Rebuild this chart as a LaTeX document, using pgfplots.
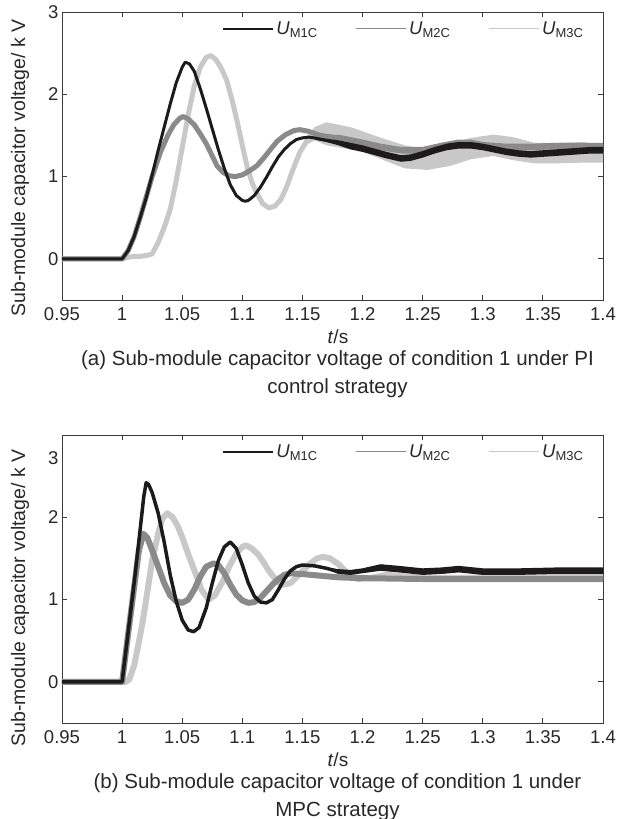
\documentclass[border=0pt]{standalone}
\usepackage{fontspec}
\setmainfont{Liberation Sans}
\usepackage{pgfplots}
\pgfplotsset{compat=1.18}
\definecolor{cA}{RGB}{28,26,27}
\definecolor{cB}{RGB}{138,138,138}
\definecolor{cC}{RGB}{200,200,200}
\definecolor{axc}{RGB}{60,60,60}
\definecolor{txc}{RGB}{40,40,40}
\newcommand{\fs}{\fontsize{18.5}{21}\selectfont}
\newcommand{\fl}{\fontsize{19.5}{23}\selectfont}
\newcommand{\fx}{\fontsize{19}{22}\selectfont}
\newcommand{\fc}{\fontsize{20.5}{28}\selectfont}
\pgfplotsset{
 mystyle/.style={
  scale only axis, width=541pt, height=288pt,
  xmin=0.95, xmax=1.4, ymin=-0.5, ymax=3,
  xtick={0.95,1.0,1.05,1.1,1.15,1.2,1.25,1.3,1.35,1.4},
  xticklabels={0.95,1,1.05,1.1,1.15,1.2,1.25,1.3,1.35,1.4},
  tick align=inside, xtick pos=both, ytick pos=both,
  major tick length=5pt,
  axis line style={axc, line width=0.8pt},
  every tick/.style={axc, line width=0.8pt},
  tick label style={font=\fs, text=txc},
  xticklabel style={yshift=-4pt},
  label style={text=txc},
  xlabel={\textit{t}/s},
  xlabel style={font=\fx, inner sep=0pt, at={(axis description cs:0.51,-0.127)}, anchor=center},
  ylabel={Sub-module capacitor voltage/ k V},
  legend columns=3,
  legend style={draw=none, fill=none, at={(axis description cs:0.296,0.975)}, anchor=north west, inner sep=0pt,
     font=\fs, text=txc, /tikz/every even column/.append style={column sep=36pt}, cells={anchor=west}},
  legend image code/.code={\draw[##1] (0pt,0pt) -- (50pt,0pt);},
 }
}
\begin{document}
\begin{tikzpicture}
\path[use as bounding box] (-62pt,-519pt) rectangle (559pt,300pt);
% ---------------- (a) PI ----------------
\begin{axis}[mystyle, at={(0pt,0pt)}, anchor=south west,
  ytick={0,1,2,3}, yticklabels={0,1,2,3},
  ylabel style={font=\fl, at={(axis description cs:-0.0776,0.458)}, anchor=center}]
\addlegendimage{cA, line width=2pt}\addlegendentry{\textit{U}\textsubscript{M1C}}
\addlegendimage{cB, line width=1.6pt}\addlegendentry{\textit{U}\textsubscript{M2C}}
\addlegendimage{cC, line width=1.6pt}\addlegendentry{\textit{U}\textsubscript{M3C}}
% U_M3C
\addplot[cC, line width=5pt, line join=round, forget plot] coordinates {
(0.95,0)(1.0,0)(1.005,0.02)(1.01,0.03)(1.015,0.03)(1.02,0.04)(1.025,0.06)(1.03,0.2)(1.035,0.38)(1.04,0.6)(1.045,0.95)(1.05,1.35)(1.055,1.75)(1.06,2.1)(1.065,2.33)(1.07,2.45)(1.074,2.47)(1.078,2.42)(1.082,2.33)(1.087,2.17)(1.092,1.9)(1.096,1.65)(1.1,1.38)(1.104,1.12)(1.108,0.93)(1.112,0.8)(1.117,0.67)(1.122,0.62)(1.127,0.64)(1.132,0.72)(1.137,0.88)(1.143,1.12)(1.148,1.3)(1.154,1.44)(1.16,1.52)(1.17,1.52)(1.19,1.46)(1.2,1.42)(1.2175,1.33)(1.235,1.24)(1.254,1.2)(1.273,1.27)(1.29,1.34)(1.309,1.38)(1.325,1.34)(1.343,1.28)(1.36,1.28)(1.384,1.29)(1.4,1.27)};
\addplot[fill=cC, draw=none, forget plot] coordinates {
(1.15,1.4)(1.16,1.6)(1.17,1.66)(1.19,1.6)(1.2,1.55)(1.2175,1.46)(1.235,1.38)(1.254,1.33)(1.273,1.4)(1.29,1.47)(1.309,1.51)(1.325,1.48)(1.343,1.41)(1.36,1.41)(1.384,1.42)(1.4,1.38)
(1.4,1.17)(1.384,1.17)(1.36,1.16)(1.343,1.16)(1.325,1.2)(1.309,1.25)(1.29,1.21)(1.273,1.13)(1.254,1.08)(1.235,1.1)(1.2175,1.2)(1.2,1.3)(1.19,1.33)(1.17,1.38)(1.16,1.44)(1.15,1.36)} -- cycle;
% U_M2C
\addplot[cB, line width=5pt, line join=round, forget plot] coordinates {
(0.95,0)(1.0,0)(1.005,0.1)(1.01,0.27)(1.015,0.5)(1.02,0.75)(1.025,1.0)(1.032,1.3)(1.038,1.5)(1.043,1.63)(1.048,1.71)(1.051,1.73)(1.055,1.7)(1.06,1.63)(1.065,1.52)(1.07,1.4)(1.075,1.25)(1.079,1.13)(1.084,1.05)(1.089,1.01)(1.094,1.0)(1.1,1.02)(1.106,1.07)(1.112,1.13)(1.118,1.23)(1.124,1.34)(1.129,1.43)(1.136,1.51)(1.143,1.56)(1.148,1.57)(1.155,1.55)(1.165,1.5)(1.18,1.47)(1.2,1.41)(1.215,1.36)(1.232,1.32)(1.25,1.32)(1.265,1.37)(1.28,1.41)(1.29,1.41)(1.3,1.38)(1.32,1.36)(1.34,1.36)(1.36,1.37)(1.38,1.37)(1.4,1.37)};
\addplot[fill=cB, draw=none, forget plot] coordinates {
(1.17,1.49)(1.18,1.51)(1.2,1.45)(1.215,1.4)(1.232,1.36)(1.25,1.36)(1.265,1.41)(1.28,1.45)(1.29,1.45)(1.3,1.42)(1.32,1.4)(1.34,1.4)(1.36,1.41)(1.38,1.41)(1.4,1.41)
(1.4,1.33)(1.38,1.33)(1.36,1.33)(1.34,1.32)(1.32,1.32)(1.3,1.34)(1.29,1.37)(1.28,1.37)(1.265,1.33)(1.25,1.28)(1.232,1.28)(1.215,1.32)(1.2,1.37)(1.18,1.43)(1.17,1.47)} -- cycle;
% U_M1C
\addplot[cA, line width=3pt, line join=round, forget plot] coordinates {
(0.95,0)(1.0,0)(1.005,0.1)(1.01,0.27)(1.015,0.5)(1.02,0.74)(1.025,1.02)(1.03,1.32)(1.035,1.6)(1.04,1.88)(1.045,2.14)(1.05,2.33)(1.0525,2.39)(1.056,2.37)(1.06,2.28)(1.065,2.07)(1.07,1.83)(1.075,1.58)(1.08,1.33)(1.085,1.1)(1.09,0.9)(1.095,0.77)(1.1,0.71)(1.1025,0.7)(1.105,0.71)(1.11,0.77)(1.115,0.87)(1.12,0.99)(1.125,1.12)(1.13,1.24)(1.135,1.33)(1.14,1.4)(1.145,1.45)(1.15,1.47)(1.155,1.48)(1.16,1.47)(1.17,1.44)(1.18,1.41)(1.19,1.37)(1.2,1.34)(1.21,1.3)(1.22,1.26)(1.232,1.22)(1.24,1.23)(1.25,1.27)(1.26,1.32)(1.27,1.36)(1.28,1.38)(1.29,1.38)(1.3,1.36)(1.31,1.33)(1.32,1.3)(1.33,1.28)(1.34,1.27)(1.35,1.28)(1.36,1.29)(1.37,1.3)(1.38,1.31)(1.39,1.32)(1.4,1.32)};
\addplot[fill=cA, draw=none, forget plot] coordinates {
(1.16,1.47)(1.17,1.46)(1.18,1.44)(1.19,1.41)(1.2,1.38)(1.21,1.34)(1.22,1.3)(1.232,1.26)(1.24,1.27)(1.25,1.31)(1.26,1.36)(1.27,1.4)(1.28,1.42)(1.29,1.42)(1.3,1.4)(1.31,1.37)(1.32,1.34)(1.33,1.32)(1.34,1.31)(1.35,1.32)(1.36,1.33)(1.37,1.34)(1.38,1.35)(1.39,1.36)(1.4,1.36)
(1.4,1.28)(1.39,1.28)(1.38,1.27)(1.37,1.26)(1.36,1.25)(1.35,1.24)(1.34,1.23)(1.33,1.24)(1.32,1.26)(1.31,1.29)(1.3,1.32)(1.29,1.34)(1.28,1.34)(1.27,1.32)(1.26,1.28)(1.25,1.23)(1.24,1.19)(1.232,1.18)(1.22,1.22)(1.21,1.26)(1.2,1.3)(1.19,1.33)(1.18,1.38)(1.17,1.42)(1.16,1.45)} -- cycle;
\end{axis}
\node[font=\fc, text=txc, align=center, inner sep=0pt] at (275.5pt,-74pt) {(a) Sub-module capacitor voltage of condition 1 under PI\\control strategy};
% ---------------- (b) MPC ----------------
\begin{axis}[mystyle, at={(0pt,-423pt)}, anchor=south west,
  ytick={0,1,2}, yticklabels={0,1,2},
  extra y ticks={2.72}, extra y tick labels={3}, extra y tick style={major tick length=0pt},
  ylabel style={font=\fl, at={(axis description cs:-0.0776,0.434)}, anchor=center}]
\addlegendimage{cA, line width=2pt}\addlegendentry{\textit{U}\textsubscript{M1C}}
\addlegendimage{cB, line width=1.6pt}\addlegendentry{\textit{U}\textsubscript{M2C}}
\addlegendimage{cC, line width=1.6pt}\addlegendentry{\textit{U}\textsubscript{M3C}}
% U_M3C
\addplot[cC, line width=6pt, line join=round, forget plot] coordinates {
(0.95,0)(1.003,0)(1.006,0.03)(1.01,0.2)(1.0135,0.45)(1.0167,0.7)(1.02,1.0)(1.025,1.48)(1.03,1.8)(1.0333,1.98)(1.0375,2.05)(1.042,2.0)(1.046,1.9)(1.05,1.76)(1.055,1.55)(1.061,1.32)(1.066,1.12)(1.072,1.0)(1.077,1.05)(1.083,1.2)(1.089,1.4)(1.095,1.56)(1.1,1.64)(1.103,1.66)(1.108,1.62)(1.113,1.55)(1.117,1.47)(1.122,1.35)(1.128,1.24)(1.133,1.18)(1.14,1.2)(1.147,1.3)(1.155,1.42)(1.162,1.5)(1.167,1.52)(1.173,1.5)(1.18,1.43)(1.187,1.33)(1.1956,1.25)(1.205,1.26)(1.22,1.3)(1.235,1.28)(1.26,1.26)(1.3,1.27)(1.35,1.27)(1.4,1.27)};
% U_M2C
\addplot[cB, line width=6pt, line join=round, forget plot] coordinates {
(0.95,0)(1.0,0)(1.005,0.58)(1.01,1.15)(1.014,1.6)(1.0178,1.8)(1.021,1.75)(1.025,1.6)(1.03,1.4)(1.035,1.2)(1.04,1.05)(1.045,0.98)(1.05,0.96)(1.055,1.0)(1.06,1.12)(1.065,1.28)(1.07,1.4)(1.076,1.44)(1.08,1.42)(1.085,1.32)(1.09,1.18)(1.095,1.06)(1.1,0.99)(1.105,0.96)(1.11,0.97)(1.115,1.02)(1.12,1.1)(1.125,1.18)(1.13,1.25)(1.135,1.3)(1.14,1.32)(1.15,1.31)(1.165,1.29)(1.18,1.27)(1.2,1.26)(1.25,1.25)(1.3,1.25)(1.4,1.25)};
% U_M1C
\addplot[cA, line width=3.5pt, line join=round, forget plot] coordinates {
(0.95,0)(1.0,0)(1.005,0.6)(1.01,1.2)(1.015,1.85)(1.018,2.25)(1.02,2.42)(1.022,2.4)(1.025,2.3)(1.03,2.05)(1.035,1.7)(1.04,1.3)(1.045,0.98)(1.05,0.75)(1.055,0.63)(1.0595,0.61)(1.064,0.66)(1.07,0.9)(1.075,1.2)(1.08,1.47)(1.085,1.64)(1.09,1.7)(1.095,1.62)(1.1,1.42)(1.105,1.2)(1.11,1.04)(1.115,0.97)(1.12,0.96)(1.125,1.0)(1.13,1.12)(1.135,1.25)(1.14,1.35)(1.145,1.4)(1.15,1.42)(1.16,1.41)(1.17,1.38)(1.18,1.34)(1.19,1.33)(1.2,1.35)(1.215,1.39)(1.23,1.37)(1.25,1.34)(1.265,1.35)(1.28,1.37)(1.3,1.34)(1.33,1.34)(1.36,1.35)(1.4,1.35)};
\addplot[fill=cA, draw=none, forget plot] coordinates {
(1.17,1.39)(1.18,1.37)(1.19,1.36)(1.2,1.38)(1.215,1.43)(1.23,1.41)(1.25,1.38)(1.265,1.39)(1.28,1.41)(1.3,1.38)(1.33,1.38)(1.36,1.39)(1.4,1.39)
(1.4,1.31)(1.36,1.31)(1.33,1.3)(1.3,1.3)(1.28,1.33)(1.265,1.31)(1.25,1.3)(1.23,1.33)(1.215,1.35)(1.2,1.32)(1.19,1.3)(1.18,1.31)(1.17,1.37)} -- cycle;
\end{axis}
\node[font=\fc, text=txc, align=center, inner sep=0pt] at (275.5pt,-497pt) {(b) Sub-module capacitor voltage of condition 1 under\\MPC strategy};
\end{tikzpicture}
\end{document}
